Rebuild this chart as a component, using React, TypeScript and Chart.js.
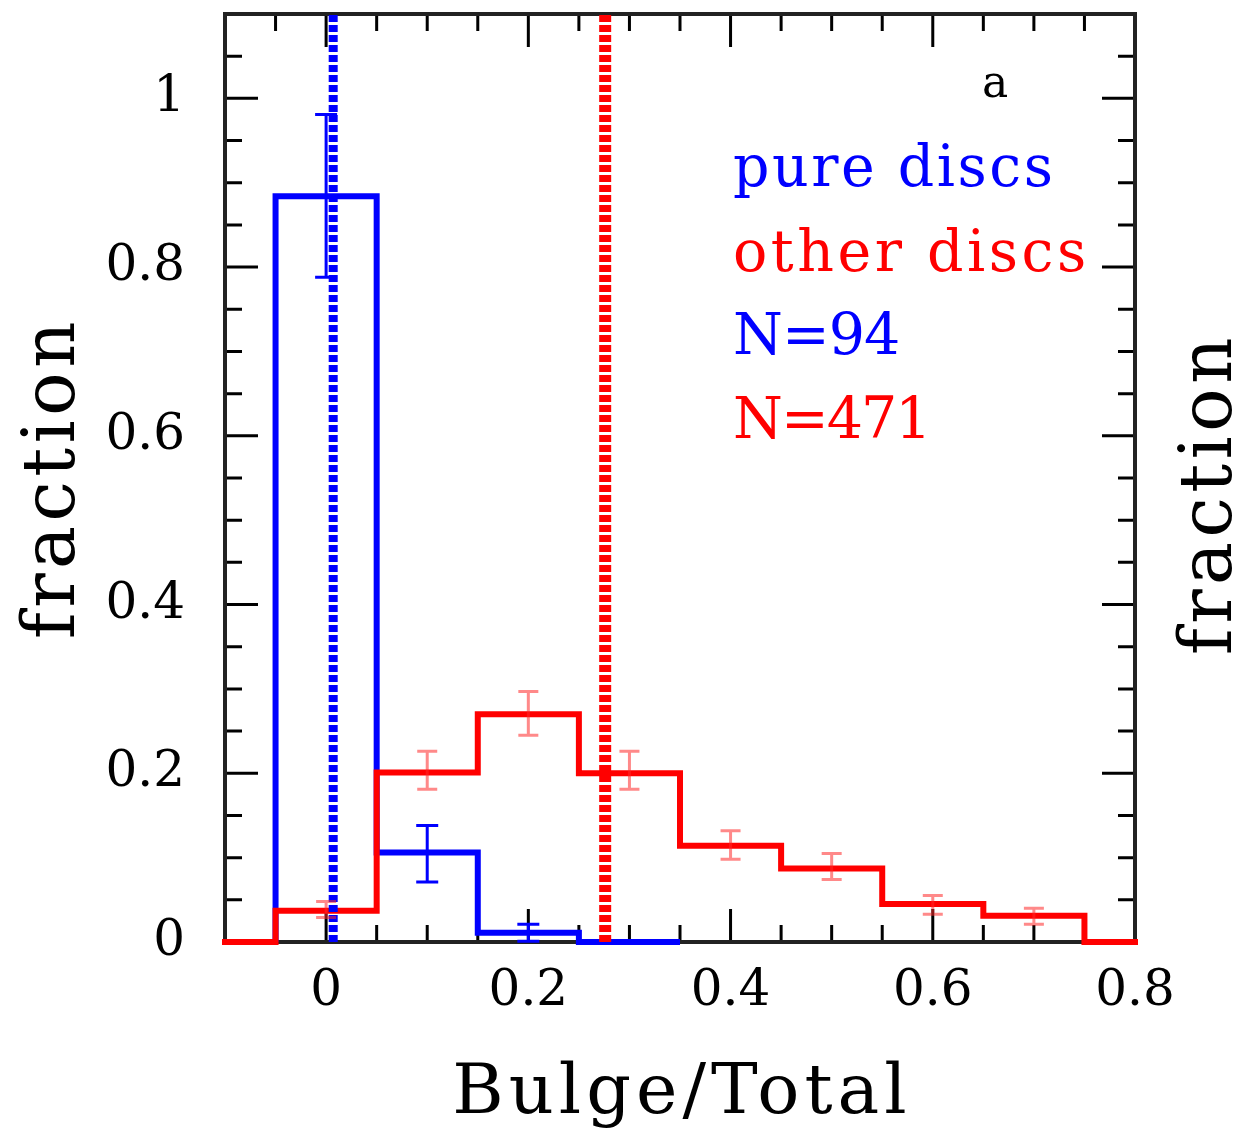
import React, { useEffect, useRef } from 'react';
import { Chart, registerables } from 'chart.js';

Chart.register(...registerables);

const BLUE = '#0000ff';
const RED = '#ff0000';
const RED_ERR = 'rgba(255,40,40,0.55)';
const FONT = "'DejaVu Serif', serif";

const BIN_WIDTH = 0.1;
const X_MIN = -0.1;
const X_MAX = 0.8;
const Y_MIN = 0;
const Y_MAX = 1.1;
const MINOR_STEP = 0.05;
const MAJOR_STEP = 0.2;

const pureBinCenters = [0, 0.1, 0.2, 0.3];
const pureFractions = [0.884, 0.106, 0.011, 0];
const pureErrCenters = [0, 0.1, 0.2];
const pureErrLow = [0.788, 0.071, 0.001];
const pureErrHigh = [0.981, 0.138, 0.021];

const otherBinCenters = [-0.1, 0, 0.1, 0.2, 0.3, 0.4, 0.5, 0.6, 0.7, 0.8];
const otherFractions = [0, 0.037, 0.201, 0.27, 0.2, 0.114, 0.087, 0.045, 0.031, 0];
const otherErrCenters = [0, 0.1, 0.2, 0.3, 0.4, 0.5, 0.6, 0.7];
const otherErrLow = [0.029, 0.181, 0.245, 0.181, 0.098, 0.074, 0.033, 0.021];
const otherErrHigh = [0.048, 0.226, 0.297, 0.226, 0.132, 0.105, 0.055, 0.04];

const pureMedian = 0.007;
const otherMedian = 0.276;

const xTickValues = [0, 0.2, 0.4, 0.6, 0.8];
const xTickLabels = ['0', '0.2', '0.4', '0.6', '0.8'];
const yTickValues = [0, 0.2, 0.4, 0.6, 0.8, 1];
const yTickLabels = ['0', '0.2', '0.4', '0.6', '0.8', '1'];

const xTitle = 'Bulge/Total';
const yTitle = 'fraction';
const panelLabel = 'a';
const legendLines = ['pure discs', 'other discs', 'N=94', 'N=471'];
const legendColors = [BLUE, RED, BLUE, RED];

function stepPoints(centers: number[], values: number[], width: number) {
  const pts: { x: number; y: number }[] = [{ x: centers[0] - width / 2, y: 0 }];
  centers.forEach((c, i) => {
    pts.push({ x: c - width / 2, y: values[i] });
    pts.push({ x: c + width / 2, y: values[i] });
  });
  return pts;
}

const frameTicksPlugin = {
  id: 'frameTicks',
  beforeDatasetsDraw(chart: any) {
    const { ctx, chartArea } = chart;
    const { left, right, top, bottom } = chartArea;
    const xs = chart.scales.x;
    const ys = chart.scales.y;
    ctx.save();
    ctx.strokeStyle = '#000';
    ctx.lineWidth = 3;
    const isMajor = (v: number) => Math.abs(v / MAJOR_STEP - Math.round(v / MAJOR_STEP)) < 1e-6;
    for (let i = Math.ceil(X_MIN / MINOR_STEP - 1e-9); i <= Math.floor(X_MAX / MINOR_STEP + 1e-9); i++) {
      const v = i * MINOR_STEP;
      const px = xs.getPixelForValue(v);
      const len = isMajor(v) ? 33 : 17;
      ctx.beginPath();
      ctx.moveTo(px, bottom);
      ctx.lineTo(px, bottom - len);
      ctx.moveTo(px, top);
      ctx.lineTo(px, top + len);
      ctx.stroke();
    }
    for (let i = Math.ceil(Y_MIN / MINOR_STEP - 1e-9); i <= Math.floor(Y_MAX / MINOR_STEP + 1e-9); i++) {
      const v = i * MINOR_STEP;
      const py = ys.getPixelForValue(v);
      const len = isMajor(v) ? 33 : 17;
      ctx.beginPath();
      ctx.moveTo(left, py);
      ctx.lineTo(left + len, py);
      ctx.moveTo(right, py);
      ctx.lineTo(right - len, py);
      ctx.stroke();
    }
    ctx.strokeStyle = '#222';
    ctx.lineWidth = 4;
    ctx.strokeRect(left, top, right - left, bottom - top);
    ctx.restore();
  },
};

function drawErrors(ctx: any, xs: any, ys: any, centers: number[], lo: number[], hi: number[], color: string, lw: number, capHalf: number) {
  ctx.save();
  ctx.strokeStyle = color;
  ctx.lineWidth = lw;
  centers.forEach((c, i) => {
    const px = xs.getPixelForValue(c);
    const y1 = ys.getPixelForValue(lo[i]);
    const y2 = ys.getPixelForValue(hi[i]);
    ctx.beginPath();
    ctx.moveTo(px, y1);
    ctx.lineTo(px, y2);
    ctx.moveTo(px - capHalf, y1);
    ctx.lineTo(px + capHalf, y1);
    ctx.moveTo(px - capHalf, y2);
    ctx.lineTo(px + capHalf, y2);
    ctx.stroke();
  });
  ctx.restore();
}

const errorBarPlugin = {
  id: 'errorBars',
  afterDatasetsDraw(chart: any) {
    const { ctx } = chart;
    const xs = chart.scales.x;
    const ys = chart.scales.y;
    drawErrors(ctx, xs, ys, pureErrCenters, pureErrLow, pureErrHigh, BLUE, 3, 11);
    drawErrors(ctx, xs, ys, otherErrCenters, otherErrLow, otherErrHigh, RED_ERR, 3, 10);
  },
};

function spacedText(ctx: any, text: string, x: number, y: number, spacing: number, align: string) {
  ctx.letterSpacing = spacing + 'px';
  ctx.textAlign = align;
  ctx.fillText(text, x, y);
  ctx.letterSpacing = '0px';
}

const textPlugin = {
  id: 'texts',
  afterDraw(chart: any) {
    const { ctx, chartArea } = chart;
    const { left, right, top, bottom } = chartArea;
    ctx.save();
    ctx.fillStyle = '#000';
    ctx.textBaseline = 'alphabetic';
    // x title
    ctx.font = `70px ${FONT}`;
    spacedText(ctx, xTitle, (left + right) / 2 + 2, 1113, 5, 'center');
    // left y title
    ctx.font = `72px ${FONT}`;
    ctx.save();
    ctx.translate(74, (top + bottom) / 2);
    ctx.rotate(-Math.PI / 2);
    spacedText(ctx, yTitle, 0, 0, 4.5, 'center');
    ctx.restore();
    // right y title
    ctx.save();
    ctx.translate(1231, (top + bottom) / 2 + 16);
    ctx.rotate(-Math.PI / 2);
    spacedText(ctx, yTitle, 0, 0, 4.5, 'center');
    ctx.restore();
    // panel label
    ctx.font = `44px ${FONT}`;
    spacedText(ctx, panelLabel, 995, 97, 0, 'center');
    // legend
    const baselines = [186, 271, 354, 438];
    const spacings = [2.5, 3.5, -1, -2];
    ctx.font = `57px ${FONT}`;
    legendLines.forEach((t, i) => {
      ctx.fillStyle = legendColors[i];
      spacedText(ctx, t, 733, baselines[i], spacings[i], 'left');
    });
    ctx.restore();
  },
};

const zeroPadding = (s: any) => {
  s.paddingTop = 0;
  s.paddingBottom = 0;
  s.paddingLeft = 0;
  s.paddingRight = 0;
};

export default function App() {
  const canvasRef = useRef<HTMLCanvasElement | null>(null);

  useEffect(() => {
    document.body.style.margin = '0';
    const canvas = canvasRef.current;
    if (!canvas) return;
    const chart = new Chart(canvas, {
      type: 'scatter',
      data: {
        datasets: [
          {
            label: 'pure discs',
            data: stepPoints(pureBinCenters, pureFractions, BIN_WIDTH),
            showLine: true,
            borderColor: BLUE,
            borderWidth: 6,
            pointRadius: 0,
            tension: 0,
            clip: 3,
            order: 6,
          },
          {
            label: 'other discs',
            data: stepPoints(otherBinCenters, otherFractions, BIN_WIDTH),
            showLine: true,
            borderColor: RED,
            borderWidth: 6,
            pointRadius: 0,
            tension: 0,
            clip: 3,
            order: 5,
          },
          {
            label: 'pure median',
            data: [
              { x: pureMedian, y: Y_MIN },
              { x: pureMedian, y: Y_MAX },
            ],
            showLine: true,
            borderColor: BLUE,
            borderWidth: 9,
            borderDash: [7, 3],
            pointRadius: 0,
            clip: 3,
            order: 4,
          },
          {
            label: 'other median',
            data: [
              { x: otherMedian, y: Y_MIN },
              { x: otherMedian, y: Y_MAX },
            ],
            showLine: true,
            borderColor: RED,
            borderWidth: 12,
            borderDash: [7, 3],
            pointRadius: 0,
            clip: 3,
            order: 3,
          },
        ],
      },
      options: {
        responsive: false,
        animation: false,
        events: [],
        layout: { padding: { top: 14, right: 106, left: 0, bottom: 0 } },
        plugins: {
          legend: { display: false },
          tooltip: { enabled: false },
          title: { display: false },
        },
        scales: {
          x: {
            type: 'linear',
            position: 'bottom',
            min: X_MIN,
            max: X_MAX,
            grid: { display: false },
            border: { display: false },
            afterFit: (s: any) => {
              s.height = 188;
              zeroPadding(s);
            },
            afterBuildTicks: (s: any) => {
              s.ticks = xTickValues.map((v) => ({ value: v }));
            },
            ticks: {
              autoSkip: false,
              maxRotation: 0,
              padding: 12,
              color: '#000',
              font: { family: FONT, size: 50 },
              callback: (v: any) => {
                const i = xTickValues.findIndex((t) => Math.abs(t - Number(v)) < 1e-9);
                return i >= 0 ? xTickLabels[i] : '';
              },
            },
          },
          y: {
            type: 'linear',
            position: 'left',
            min: Y_MIN,
            max: Y_MAX,
            grid: { display: false },
            border: { display: false },
            afterFit: (s: any) => {
              s.width = 225;
              zeroPadding(s);
            },
            afterBuildTicks: (s: any) => {
              s.ticks = yTickValues.map((v) => ({ value: v }));
            },
            ticks: {
              autoSkip: false,
              padding: 32,
              color: '#000',
              font: { family: FONT, size: 50 },
              callback: (v: any) => {
                const i = yTickValues.findIndex((t) => Math.abs(t - Number(v)) < 1e-9);
                return i >= 0 ? yTickLabels[i] : '';
              },
            },
          },
        },
      },
      plugins: [frameTicksPlugin, errorBarPlugin, textPlugin],
    } as any);
    return () => chart.destroy();
  }, []);

  return (
    <div style={{ width: 1241, height: 1130, background: '#fff' }}>
      <canvas ref={canvasRef} width={1241} height={1130} style={{ display: 'block' }} />
    </div>
  );
}
